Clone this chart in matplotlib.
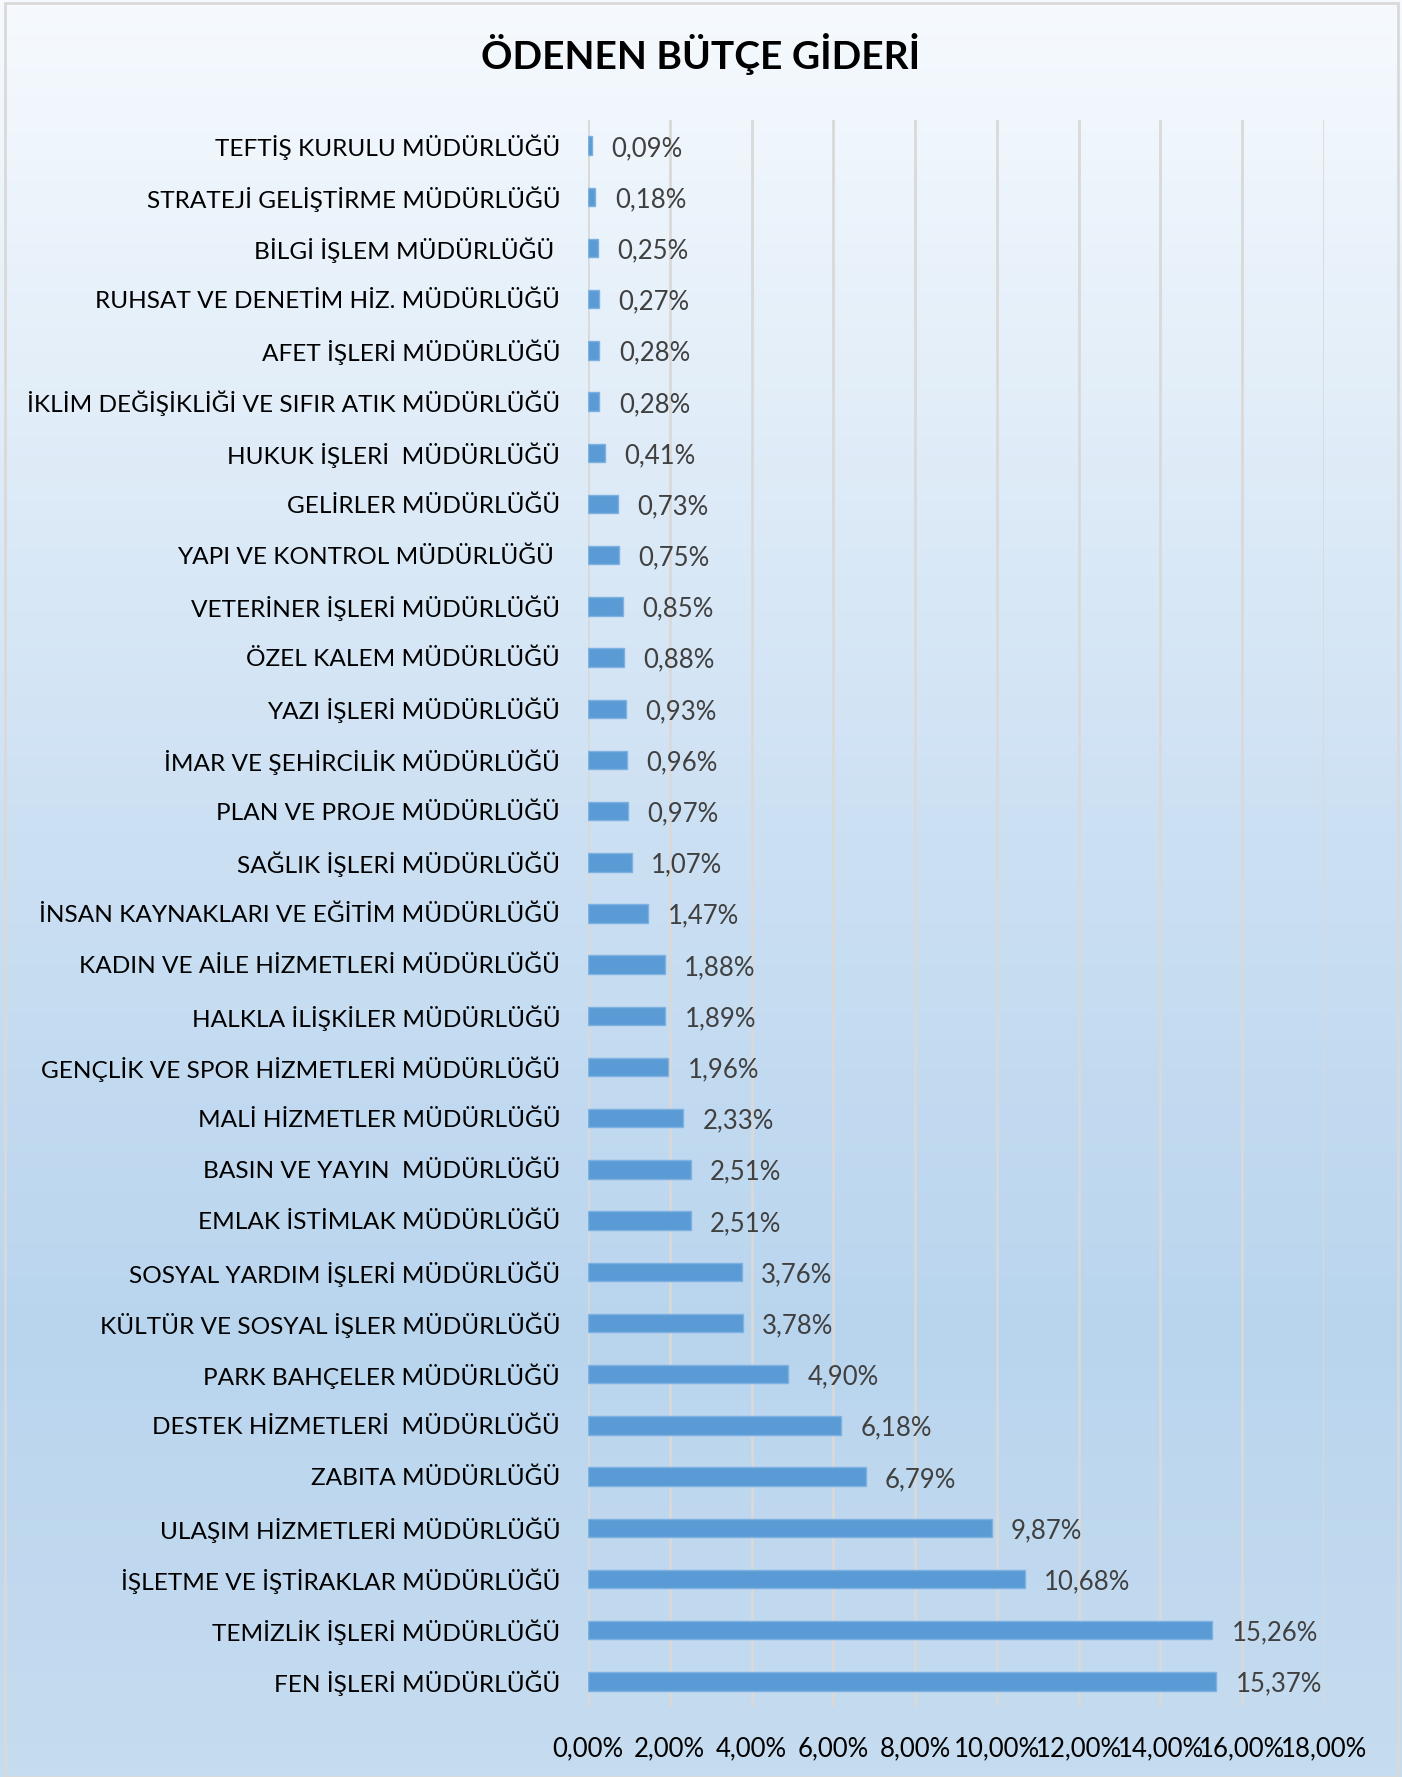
import matplotlib
matplotlib.use('Agg')
import matplotlib.pyplot as plt
import numpy as np
from matplotlib.colors import LinearSegmentedColormap
from matplotlib.ticker import FuncFormatter, MultipleLocator
from matplotlib.patches import Rectangle

categories = [
    "TEFTİŞ KURULU MÜDÜRLÜĞÜ",
    "STRATEJİ GELİŞTİRME MÜDÜRLÜĞÜ",
    "BİLGİ İŞLEM MÜDÜRLÜĞÜ ",
    "RUHSAT VE DENETİM HİZ. MÜDÜRLÜĞÜ",
    "AFET İŞLERİ MÜDÜRLÜĞÜ",
    "İKLİM DEĞİŞİKLİĞİ VE SIFIR ATIK MÜDÜRLÜĞÜ",
    "HUKUK İŞLERİ  MÜDÜRLÜĞÜ",
    "GELİRLER MÜDÜRLÜĞÜ",
    "YAPI VE KONTROL MÜDÜRLÜĞÜ ",
    "VETERİNER İŞLERİ MÜDÜRLÜĞÜ",
    "ÖZEL KALEM MÜDÜRLÜĞÜ",
    "YAZI İŞLERİ MÜDÜRLÜĞÜ",
    "İMAR VE ŞEHİRCİLİK MÜDÜRLÜĞÜ",
    "PLAN VE PROJE MÜDÜRLÜĞÜ",
    "SAĞLIK İŞLERİ MÜDÜRLÜĞÜ",
    "İNSAN KAYNAKLARI VE EĞİTİM MÜDÜRLÜĞÜ",
    "KADIN VE AİLE HİZMETLERİ MÜDÜRLÜĞÜ",
    "HALKLA İLİŞKİLER MÜDÜRLÜĞÜ",
    "GENÇLİK VE SPOR HİZMETLERİ MÜDÜRLÜĞÜ",
    "MALİ HİZMETLER MÜDÜRLÜĞÜ",
    "BASIN VE YAYIN  MÜDÜRLÜĞÜ",
    "EMLAK İSTİMLAK MÜDÜRLÜĞÜ",
    "SOSYAL YARDIM İŞLERİ MÜDÜRLÜĞÜ",
    "KÜLTÜR VE SOSYAL İŞLER MÜDÜRLÜĞÜ",
    "PARK BAHÇELER MÜDÜRLÜĞÜ",
    "DESTEK HİZMETLERİ  MÜDÜRLÜĞÜ",
    "ZABITA MÜDÜRLÜĞÜ",
    "ULAŞIM HİZMETLERİ MÜDÜRLÜĞÜ",
    "İŞLETME VE İŞTİRAKLAR MÜDÜRLÜĞÜ",
    "TEMİZLİK İŞLERİ MÜDÜRLÜĞÜ",
    "FEN İŞLERİ MÜDÜRLÜĞÜ",
]
values = [0.09, 0.18, 0.25, 0.27, 0.28, 0.28, 0.41, 0.73, 0.75, 0.85, 0.88, 0.93,
          0.96, 0.97, 1.07, 1.47, 1.88, 1.89, 1.96, 2.33, 2.51, 2.51, 3.76, 3.78,
          4.90, 6.18, 6.79, 9.87, 10.68, 15.26, 15.37]
title = "ÖDENEN BÜTÇE GİDERİ"
x_max = 18
x_step = 2

FONT = ['Lato', 'DejaVu Sans']
plt.rcParams['font.family'] = FONT

W, H = 1402, 1777
fig = plt.figure(figsize=(W / 100, H / 100), dpi=100)

# background gradient
bg = fig.add_axes([0, 0, 1, 1], zorder=-10)
cmap = LinearSegmentedColormap.from_list('bg', [
    (0.0, '#F6FAFE'), (0.47, '#CCE0F3'), (0.75, '#B9D5EE'), (1.0, '#C6DCF0')])
grad = np.linspace(0, 1, 512).reshape(-1, 1)
bg.imshow(grad, aspect='auto', cmap=cmap, extent=[0, 1, 0, 1], origin='upper')
bg.add_patch(Rectangle((5 / W, 0), (W - 9) / W, 1 - 3 / H, fill=False,
                       edgecolor='#D9D9D9', lw=2))
bg.set_xlim(0, 1); bg.set_ylim(0, 1)
bg.axis('off')

left, right = 588 / W, 1324 / W
top, bottom = 1 - 120 / H, 1 - 1707 / H
ax = fig.add_axes([left, bottom, right - left, top - bottom])
ax.set_facecolor('none')

y = np.arange(len(categories))
ax.barh(y, values, height=0.36, color='#5B9BD5', edgecolor='#7EB1E1', lw=1, zorder=3)
ax.set_yticks(y)
ax.set_yticklabels(categories)
ax.set_ylim(len(categories) - 0.5, -0.5)
ax.set_xlim(0, x_max)
ax.xaxis.set_major_locator(MultipleLocator(x_step))
ax.xaxis.set_major_formatter(FuncFormatter(lambda v, p: f"{v:.2f}".replace('.', ',') + '%'))
ax.grid(axis='x', color='#D9D9D9', lw=2, zorder=0)
ax.set_axisbelow(True)
for s in ax.spines.values():
    s.set_visible(False)
ax.tick_params(axis='y', length=0, pad=20, labelsize=17.6, labelcolor='#000000')
ax.tick_params(axis='x', length=0, pad=21, labelsize=18.5, labelcolor='#000000')

for yi, v in zip(y, values):
    ax.annotate(f"{v:.2f}".replace('.', ',') + '%', xy=(v, yi), xytext=(14, -2),
                textcoords='offset points', va='center', ha='left',
                fontsize=18.5, color='#404040')

fig.text(0.5, 1 - 54 / H, title, ha='center', va='center', fontsize=28,
         fontweight='bold', color='#000000')

fig.savefig('out.png', dpi=100)
